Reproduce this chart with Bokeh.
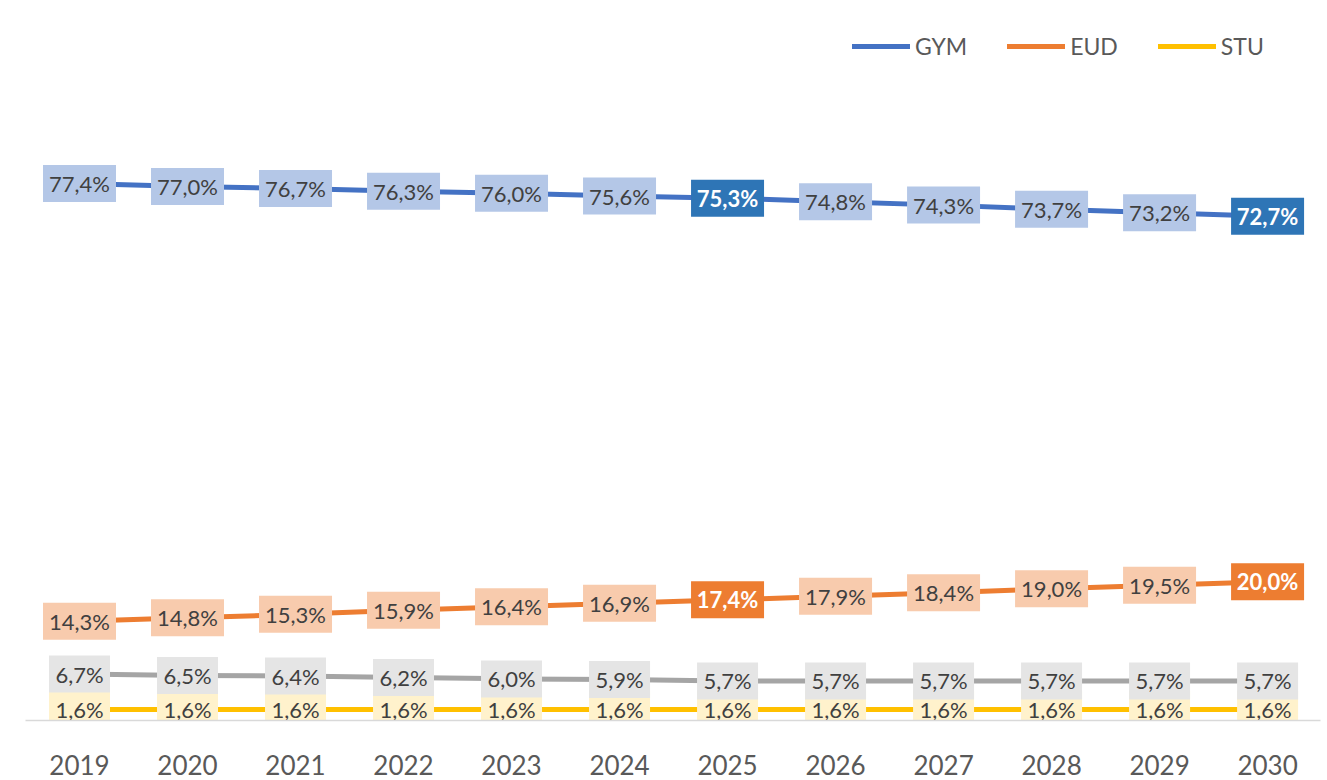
from bokeh.plotting import figure
from bokeh.models import ColumnDataSource, Range1d, FixedTicker, Legend, LegendItem
from bokeh.embed import file_html
from bokeh.resources import INLINE
from bokeh.core.properties import value

years = [2019, 2020, 2021, 2022, 2023, 2024, 2025, 2026, 2027, 2028, 2029, 2030]
gym = [77.4, 77.0, 76.7, 76.3, 76.0, 75.6, 75.3, 74.8, 74.3, 73.7, 73.2, 72.7]
eud = [14.3, 14.8, 15.3, 15.9, 16.4, 16.9, 17.4, 17.9, 18.4, 19.0, 19.5, 20.0]
other = [6.7, 6.5, 6.4, 6.2, 6.0, 5.9, 5.7, 5.7, 5.7, 5.7, 5.7, 5.7]
stu = [1.6, 1.6, 1.6, 1.6, 1.6, 1.6, 1.6, 1.6, 1.6, 1.6, 1.6, 1.6]
highlight_years = [2025, 2030]

FONT = "Lato"
TEXT_COLOR = "#404040"

p = figure(width=1327, height=780, output_backend="svg", toolbar_location=None,
           x_range=Range1d(2018.5, 2030.49), y_range=Range1d(0, 103.8),
           min_border_left=25, min_border_right=7, min_border_top=0,
           min_border_bottom=60)
p.outline_line_color = None
p.grid.visible = False
p.yaxis.visible = False
p.background_fill_color = "white"
p.border_fill_color = "white"

xa = p.xaxis[0]
xa.ticker = FixedTicker(ticks=years)
xa.major_label_overrides = {y: str(y) for y in years}
xa.major_tick_line_color = None
xa.minor_tick_line_color = None
xa.axis_line_color = "#d9d9d9"
xa.axis_line_width = 1.5
xa.major_label_text_font = FONT
xa.major_label_text_font_size = "26px"
xa.major_label_text_color = "#595959"
xa.major_label_standoff = 28

series = [
    ("GYM", gym, "#4472C4", "#B4C7E7", "#2E75B6", True),
    ("EUD", eud, "#ED7D31", "#F8CBAD", "#ED7D31", True),
    ("", other, "#A5A5A5", "#E5E5E5", "#E5E5E5", False),
    ("STU", stu, "#FFC000", "#FFF2CC", "#FFF2CC", False),
]

legend_items = {}
for name, vals, col, _, _, _ in series:
    r = p.line(years, vals, line_color=col, line_width=5, line_cap="round", line_join="round")
    if name:
        legend_items[name] = r

# label boxes: drawn in order yellow, gray, orange, blue
for name, vals, col, light, dark, hl in [series[3], series[2], series[1], series[0]]:
    labels = [f"{v:.1f}".replace(".", ",") + "%" for v in vals]
    is_hl = [hl and (y in highlight_years) for y in years]
    src = ColumnDataSource(dict(
        x=years, y=vals, text=labels,
        w=[12 * len(t) + 13 for t in labels],
        fill=[dark if h else light for h in is_hl],
        tcol=["white" if h else TEXT_COLOR for h in is_hl],
        style=["bold" if h else "normal" for h in is_hl],
    ))
    p.rect(x="x", y="y", width="w", height=37, width_units="screen", height_units="screen",
           fill_color="fill", line_color=None, source=src)
    p.text(x="x", y="y", text="text", text_align="center", text_baseline="middle",
           text_font=value(FONT), text_font_size="22px", text_color="tcol",
           text_font_style="style", source=src)

legend = Legend(items=[LegendItem(label=k, renderers=[v]) for k, v in legend_items.items()],
                orientation="horizontal", location=(827, 660),
                glyph_width=58, glyph_height=24, label_standoff=5, spacing=40,
                padding=0, margin=0, border_line_color=None, background_fill_alpha=0,
                label_text_font=FONT, label_text_font_size="23px",
                label_text_color="#595959")
p.add_layout(legend, "center")

open("out.html", "w").write(file_html(p, INLINE))
